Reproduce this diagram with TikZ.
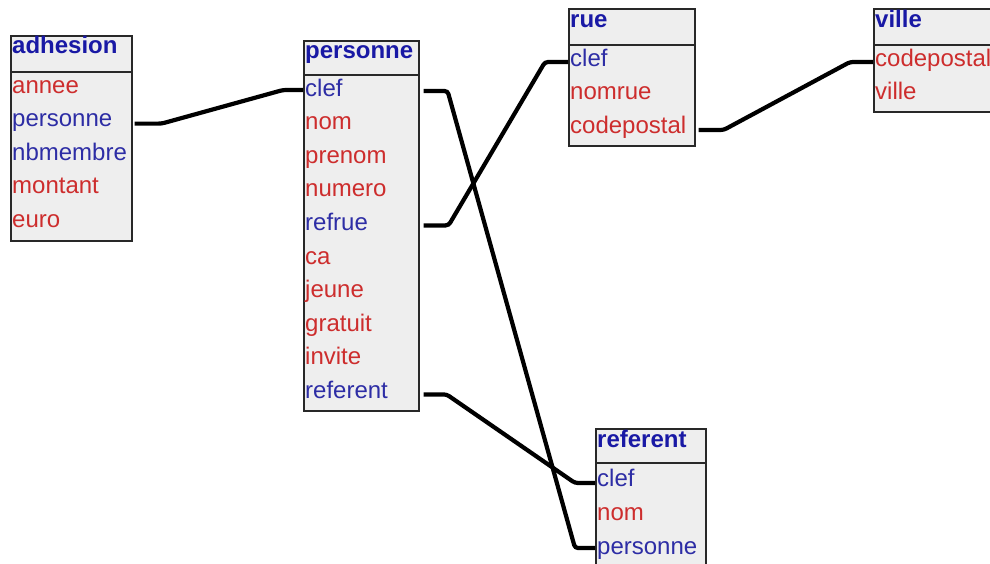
\documentclass[tikz,border=0pt]{standalone}
\usepackage{fontspec}
\setmainfont{Liberation Sans}
\usetikzlibrary{calc}
\definecolor{hdblue}{RGB}{25,25,165}
\definecolor{fblue}{RGB}{45,45,165}
\definecolor{fred}{RGB}{205,45,45}
\definecolor{tblfill}{RGB}{238,238,238}
\definecolor{tbledge}{RGB}{40,40,40}
\tikzset{
  tbl/.style={draw=tbledge, line width=1.6pt, fill=tblfill, inner sep=0pt, anchor=north west},
  sep/.style={draw=tbledge, line width=1.6pt},
  ttl/.style={anchor=base west, inner sep=0pt, text=hdblue, font=\fontsize{24}{28}\selectfont\bfseries},
  fld/.style={anchor=base west, inner xsep=0pt, inner ysep=0pt, text height=17pt, text depth=5pt,
              font=\fontsize{24}{28}\selectfont},
  kf/.style={fld, text=fblue},
  af/.style={fld, text=fred},
  link/.style={draw=black, line width=4.2pt, rounded corners=3pt}
}
\begin{document}
\begin{tikzpicture}[x=1pt, y=-1pt]
\useasboundingbox (0,0) rectangle (990,563);
\clip (0,0) rectangle (990,563);
\fill[white] (0,0) rectangle (990,563);

% table adhesion
\node[tbl, minimum width=121pt, minimum height=205pt] (adh) at (10,35) {};
\draw[sep] ($(adh.north west)+(0,37)$) -- ($(adh.north east)+(0,37)$);
\node[ttl] (adh-t) at (12,53) {adhesion};
\node[af] (adh-annee) at (12,93) {annee};
\node[kf] (adh-personne) at (12,126.6) {personne};
\node[kf] (adh-nbmembre) at (12,160.2) {nbmembre};
\node[af] (adh-montant) at (12,193.8) {montant};
\node[af] (adh-euro) at (12,227.4) {euro};

% table personne
\node[tbl, minimum width=115pt, minimum height=370pt] (per) at (303,40) {};
\draw[sep] ($(per.north west)+(0,35)$) -- ($(per.north east)+(0,35)$);
\node[ttl] (per-t) at (305,58) {personne};
\node[kf] (per-clef) at (305,96) {clef};
\node[af] (per-nom) at (305,129.6) {nom};
\node[af] (per-prenom) at (305,163.2) {prenom};
\node[af] (per-numero) at (305,196.8) {numero};
\node[kf] (per-refrue) at (305,230.4) {refrue};
\node[af] (per-ca) at (305,264) {ca};
\node[af] (per-jeune) at (305,297.6) {jeune};
\node[af] (per-gratuit) at (305,331.2) {gratuit};
\node[af] (per-invite) at (305,364.8) {invite};
\node[kf] (per-referent) at (305,398.4) {referent};

% table rue
\node[tbl, minimum width=126pt, minimum height=137pt] (rue) at (568,8) {};
\draw[sep] ($(rue.north west)+(0,37)$) -- ($(rue.north east)+(0,37)$);
\node[ttl] (rue-t) at (570,27) {rue};
\node[kf] (rue-clef) at (570,66) {clef};
\node[af] (rue-nomrue) at (570,99.5) {nomrue};
\node[af] (rue-codepostal) at (570,133) {codepostal};

% table ville
\node[tbl, minimum width=140pt, minimum height=103pt] (vil) at (873,8) {};
\draw[sep] ($(vil.north west)+(0,37)$) -- ($(vil.north east)+(0,37)$);
\node[ttl] (vil-t) at (875,27) {ville};
\node[af] (vil-codepostal) at (875,66) {codepostal};
\node[af] (vil-ville) at (875,99.5) {ville};

% table referent
\node[tbl, minimum width=110pt, minimum height=150pt] (ref) at (595,428) {};
\draw[sep] ($(ref.north west)+(0,35)$) -- ($(ref.north east)+(0,35)$);
\node[ttl] (ref-t) at (597,447) {referent};
\node[kf] (ref-clef) at (597,486) {clef};
\node[af] (ref-nom) at (597,520) {nom};
\node[kf] (ref-personne) at (597,554) {personne};

% foreign key links
\draw[link] ($(adh-personne -| adh.east)+(2,3)$) -- ++(27,0)
  -- ($(per-clef -| per.west)+(-20,0)$) -- (per-clef -| per.west);
\draw[link] ($(per-clef -| per.east)+(4,1)$) -- ++(24,0)
  -- ($(ref-personne -| ref.west)+(-20,0)$) -- (ref-personne -| ref.west);
\draw[link] ($(per-refrue -| per.east)+(4,1)$) -- ++(25,0)
  -- ($(rue-clef -| rue.west)+(-23,2)$) -- ($(rue-clef -| rue.west)+(0,2)$);
\draw[link] ($(per-referent -| per.east)+(4,2)$) -- ++(23,0)
  -- ($(ref-clef -| ref.west)+(-20,3)$) -- ($(ref-clef -| ref.west)+(0,3)$);
\draw[link] ($(rue-codepostal -| rue.east)+(3,3)$) -- ++(25,0)
  -- ($(vil-codepostal -| vil.west)+(-23,2)$) -- ($(vil-codepostal -| vil.west)+(0,2)$);
\end{tikzpicture}
\end{document}
